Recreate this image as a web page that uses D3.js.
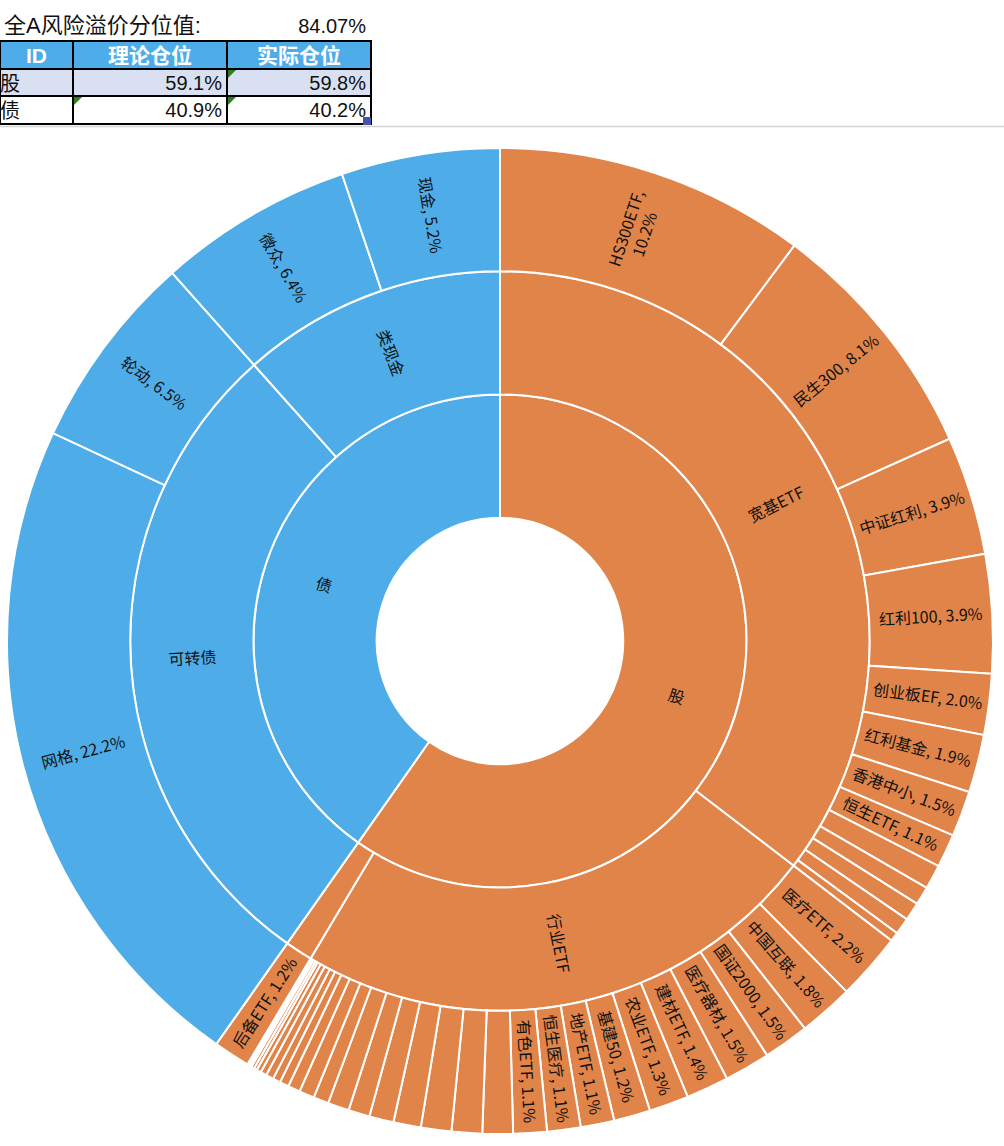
<!DOCTYPE html>
<html>
<head>
<meta charset="utf-8">
<script src="https://cdnjs.cloudflare.com/ajax/libs/d3/7.8.5/d3.min.js"></script>
<style>
body{margin:0;background:#fff;}
svg{display:block;}
</style>
</head>
<body>
<div id="chart"></div>
<script>
// table on top
const titleLabel = "全A风险溢价分位值:";
const titleValue = "84.07%";
const tableHead = ["ID", "理论仓位", "实际仓位"];
const tableIds = ["股", "债"];
const targetPos = ["59.1%", "40.9%"];
const actualPos = ["59.8%", "40.2%"];

// sunburst, values in % of total, in drawing order (clockwise)
const topNames = ["股", "债"];
const stockGroups = ["宽基ETF", "行业ETF", "后备"];
const bondGroups = ["可转债", "类现金"];

const kuanjiNames = ["HS300ETF", "民生300", "中证红利", "红利100", "创业板EF", "红利基金", "香港中小", "恒生ETF", "", "", "", "", ""];
const kuanjiValues = [10.2, 8.1, 3.9, 3.9, 2.0, 1.9, 1.5, 1.1, 0.8, 0.6, 0.6, 0.55, 0.3];

const hangyeNames = ["医疗ETF", "中国互联", "国证2000", "医疗器材", "建材ETF", "农业ETF", "基建50", "地产ETF", "恒生医疗", "有色ETF",
  "", "", "", "", "", "", "", "", "", "", "", "", "", "", "", "", "", "", "", ""];
const hangyeValues = [2.2, 1.8, 1.5, 1.5, 1.4, 1.3, 1.2, 1.1, 1.1, 1.1,
  1.0, 1.0, 1.0, 0.9, 0.8, 0.7, 0.7, 0.5, 0.5, 0.4, 0.3, 0.25, 0.25, 0.2, 0.15, 0.1, 0.1, 0.05, 0.05, 0.05];

const houbeiNames = ["后备ETF"];
const houbeiValues = [1.2];

const cbNames = ["网格", "轮动"];
const cbValues = [22.2, 6.5];
const cashNames = ["微众", "现金"];
const cashValues = [6.4, 5.2];

const topColors = ["#E0844A", "#4EADE8"];

function leaves(names, values){
  return names.map((n, i) => ({name: n, value: values[i]}));
}

const data = {name: "root", children: [
  {name: topNames[0], children: [
    {name: stockGroups[0], children: leaves(kuanjiNames, kuanjiValues)},
    {name: stockGroups[1], children: leaves(hangyeNames, hangyeValues)},
    {name: stockGroups[2], children: leaves(houbeiNames, houbeiValues)}
  ]},
  {name: topNames[1], children: [
    {name: bondGroups[0], children: leaves(cbNames, cbValues)},
    {name: bondGroups[1], children: leaves(cashNames, cashValues)}
  ]}
]};

const w = 1004, h = 1146;
const cx = 500, cy = 641, radius = 493;
const font = "'Liberation Sans', 'Noto Sans CJK SC', sans-serif";
const cjk = "'Noto Sans CJK SC', sans-serif";

const svg = d3.select("#chart")
  .append("svg")
  .attr("width", w)
  .attr("height", h);

// ---- table ----
const colX = [0, 73, 227, 371];
const rowY = [41, 69, 96, 124];

svg.append("text")
  .attr("x", 4).attr("y", 33)
  .style("font-family", font).style("font-size", "22px").attr("fill", "#111")
  .text(titleLabel);
svg.append("text")
  .attr("x", 366).attr("y", 33).attr("text-anchor", "end")
  .style("font-family", font).style("font-size", "20px").attr("fill", "#111")
  .text(titleValue);

svg.append("rect")
  .attr("x", -1).attr("y", rowY[0]).attr("width", colX[3] + 1).attr("height", rowY[1] - rowY[0])
  .attr("fill", "#4EADE8");
svg.append("rect")
  .attr("x", -1).attr("y", rowY[1]).attr("width", colX[3] + 1).attr("height", rowY[2] - rowY[1])
  .attr("fill", "#D9E0F1");

svg.selectAll(".head")
  .data(tableHead)
  .enter()
  .append("text")
  .attr("class", "head")
  .attr("x", (d, i) => (colX[i] + colX[i + 1]) / 2)
  .attr("y", 63)
  .attr("text-anchor", "middle")
  .style("font-family", font).style("font-size", "21px").style("font-weight", "bold")
  .attr("fill", "#fff")
  .text(d => d);

tableIds.forEach((id, i) => {
  const y = rowY[i + 1] + 21;
  svg.append("text").attr("x", 0).attr("y", y + 1)
    .style("font-family", cjk).style("font-size", "20px").attr("fill", "#111").text(id);
  svg.append("text").attr("x", colX[2] - 5).attr("y", y).attr("text-anchor", "end")
    .style("font-family", font).style("font-size", "20px").attr("fill", "#111").text(targetPos[i]);
  svg.append("text").attr("x", colX[3] - 5).attr("y", y).attr("text-anchor", "end")
    .style("font-family", font).style("font-size", "20px").attr("fill", "#111").text(actualPos[i]);
});

// grid lines
rowY.forEach(y => {
  svg.append("line").attr("x1", -1).attr("x2", colX[3] + 1).attr("y1", y).attr("y2", y)
    .attr("stroke", "#000").attr("stroke-width", 2);
});
colX.forEach(x => {
  svg.append("line").attr("x1", x).attr("x2", x).attr("y1", rowY[0]).attr("y2", rowY[3])
    .attr("stroke", "#000").attr("stroke-width", 2);
});

// excel marks
[[colX[2], rowY[1]], [colX[1], rowY[2]], [colX[2], rowY[2]]].forEach(p => {
  svg.append("path")
    .attr("d", `M${p[0] + 1},${p[1] + 1}L${p[0] + 9},${p[1] + 1}L${p[0] + 1},${p[1] + 9}Z`)
    .attr("fill", "#2F7D1F");
});
svg.append("rect").attr("x", colX[3] - 8).attr("y", rowY[3] - 7).attr("width", 8).attr("height", 8)
  .attr("fill", "#4652A6");

svg.append("line").attr("x1", 0).attr("x2", w).attr("y1", 126.5).attr("y2", 126.5)
  .attr("stroke", "#D4D4D4").attr("stroke-width", 1.5);

// ---- sunburst ----
const root = d3.partition()
  .size([2 * Math.PI, radius])(d3.hierarchy(data).sum(d => d.value || 0));

const arc = d3.arc()
  .startAngle(d => d.x0)
  .endAngle(d => d.x1)
  .innerRadius(d => d.y0)
  .outerRadius(d => d.y1);

const g = svg.append("g")
  .attr("transform", "translate(" + cx + "," + cy + ")");

const nodes = root.descendants().filter(d => d.depth > 0);

function topIndex(d){
  let n = d;
  while (n.depth > 1) n = n.parent;
  return topNames.indexOf(n.data.name);
}

g.selectAll("path")
  .data(nodes)
  .enter()
  .append("path")
  .attr("d", arc)
  .attr("fill", d => topColors[topIndex(d)])
  .attr("stroke", "#fff")
  .attr("stroke-width", 2);

const ringW = radius / 4;
const shown = nodes.filter(d => d.depth < 3 ? d.value > 3 : d.value >= 1.05);

const labels = g.selectAll(".lbl")
  .data(shown)
  .enter()
  .append("text")
  .attr("class", "lbl")
  .attr("transform", d => {
    const a = (d.x0 + d.x1) / 2 * 180 / Math.PI;
    const r = (d.y0 + d.y1) / 2;
    return "rotate(" + (a - 90) + ") translate(" + r + ",0) rotate(" + (a < 180 ? 0 : 180) + ")";
  })
  .attr("text-anchor", "middle")
  .style("font-family", cjk)
  .style("font-size", "16px")
  .attr("fill", "#111");

labels.each(function(d){
  const t = d3.select(this);
  if (d.depth < 3) {
    t.append("tspan").attr("x", 0).attr("dy", "0.35em").text(d.data.name);
    return;
  }
  const first = d.data.name + ",";
  const second = d.data.value.toFixed(1) + "%";
  const one = t.append("tspan").attr("x", 0).attr("dy", "0.35em").text(first + " " + second);
  if (this.getComputedTextLength() > ringW - 6) {
    one.remove();
    t.append("tspan").attr("x", 0).attr("dy", "-0.25em").text(first);
    t.append("tspan").attr("x", 0).attr("dy", "1.2em").text(second);
  }
});
</script>
</body>
</html>
